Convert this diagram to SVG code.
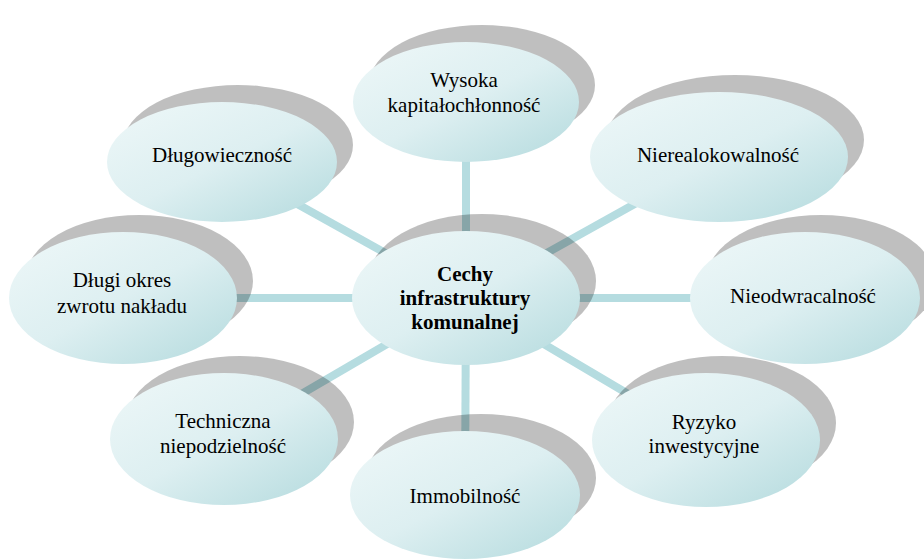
<svg xmlns="http://www.w3.org/2000/svg" width="924" height="559" viewBox="0 0 924 559">
<defs>
<linearGradient id="fillG" x1="0.1" y1="0.2" x2="0.85" y2="1">
<stop offset="0" stop-color="#e9f5f6"/>
<stop offset="0.45" stop-color="#ddeff1"/>
<stop offset="1" stop-color="#b9dde0"/>
</linearGradient>
</defs>
<style>
.sh{fill:#000;fill-opacity:0.25}
.mn{fill:url(#fillG)}
.t{font-family:"Liberation Serif","Times New Roman",serif;font-size:21px;fill:#000;text-anchor:middle}
.b{font-weight:bold}
.c{stroke:#b5dce0;stroke-width:8;fill:none}
</style>
<rect width="924" height="559" fill="#fff"/>
<g id="connectors">
<line class="c" x1="466" y1="298" x2="466" y2="102"/>
<line class="c" x1="466" y1="298" x2="719" y2="157"/>
<line class="c" x1="466" y1="298" x2="805" y2="298"/>
<line class="c" x1="466" y1="298" x2="706" y2="440"/>
<line class="c" x1="466" y1="298" x2="465" y2="495"/>
<line class="c" x1="466" y1="298" x2="224" y2="439"/>
<line class="c" x1="466" y1="298" x2="123" y2="298"/>
<line class="c" x1="466" y1="298" x2="222" y2="162"/>
</g>
<g id="n-wysoka">
<ellipse class="sh" cx="482" cy="85" rx="113" ry="60"/>
<ellipse class="mn" cx="466" cy="102" rx="113" ry="60"/>
<text class="t" x="464" y="87">Wysoka</text>
<text class="t" x="464" y="112">kapitałochłonność</text>
</g>
<g id="n-nierealokowalnosc">
<ellipse class="sh" cx="735" cy="140" rx="129" ry="65"/>
<ellipse class="mn" cx="719" cy="157" rx="129" ry="65"/>
<text class="t" x="718" y="162">Nierealokowalność</text>
</g>
<g id="n-nieodwracalnosc">
<ellipse class="sh" cx="821" cy="281" rx="115" ry="66"/>
<ellipse class="mn" cx="805" cy="298" rx="115" ry="66"/>
<text class="t" x="803" y="303">Nieodwracalność</text>
</g>
<g id="n-ryzyko">
<ellipse class="sh" cx="722" cy="423" rx="114" ry="67"/>
<ellipse class="mn" cx="706" cy="440" rx="114" ry="67"/>
<text class="t" x="704" y="429">Ryzyko</text>
<text class="t" x="704" y="453">inwestycyjne</text>
</g>
<g id="n-immobilnosc">
<ellipse class="sh" cx="481" cy="478" rx="115" ry="64"/>
<ellipse class="mn" cx="465" cy="495" rx="115" ry="64"/>
<text class="t" x="465" y="503">Immobilność</text>
</g>
<g id="n-techniczna">
<ellipse class="sh" cx="240" cy="422" rx="114" ry="66"/>
<ellipse class="mn" cx="224" cy="439" rx="114" ry="66"/>
<text class="t" x="223" y="428">Techniczna</text>
<text class="t" x="223" y="453">niepodzielność</text>
</g>
<g id="n-dlugi-okres">
<ellipse class="sh" cx="139" cy="281" rx="114" ry="66"/>
<ellipse class="mn" cx="123" cy="298" rx="114" ry="66"/>
<text class="t" x="122" y="287">Długi okres</text>
<text class="t" x="122" y="313">zwrotu nakładu</text>
</g>
<g id="n-dlugowiecznosc">
<ellipse class="sh" cx="238" cy="145" rx="115" ry="60"/>
<ellipse class="mn" cx="222" cy="162" rx="115" ry="60"/>
<text class="t" x="222" y="162">Długowieczność</text>
</g>
<g id="n-center">
<ellipse class="sh" cx="482" cy="281" rx="114" ry="67"/>
<ellipse class="mn" cx="466" cy="298" rx="114" ry="67"/>
<text class="t b" x="465" y="281">Cechy</text>
<text class="t b" x="465" y="305">infrastruktury</text>
<text class="t b" x="465" y="329">komunalnej</text>
</g>
</svg>
